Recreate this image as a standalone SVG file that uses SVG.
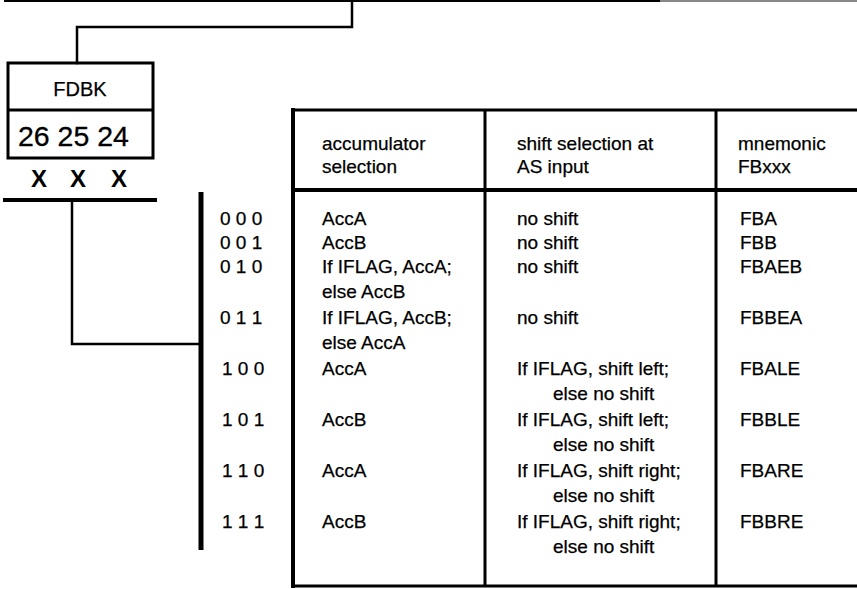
<svg xmlns="http://www.w3.org/2000/svg" width="857" height="589" viewBox="0 0 857 589">
<style>
  .t { font-family: "Liberation Sans", Arial, sans-serif; font-size: 19px; fill: #000; stroke: #000; stroke-width: 0.25; }
  .big { font-family: "Liberation Sans", Arial, sans-serif; font-size: 28.5px; fill: #000; stroke: #000; stroke-width: 0.3; }
  .hd { font-family: "Liberation Sans", Arial, sans-serif; font-size: 20px; fill: #000; stroke: #000; stroke-width: 0.25; }
  .x { font-family: "Liberation Sans", Arial, sans-serif; font-size: 24px; font-weight: bold; fill: #000; }
  .ln { stroke: #000; fill: none; stroke-linecap: square; }
</style>
<rect width="857" height="589" fill="#fff"/>
<g id="connectors">
  <line class="ln" x1="5" y1="1" x2="660" y2="1" stroke-width="2"/>
  <line x1="660" y1="1" x2="857" y2="1" stroke="#888" stroke-width="2"/>
  <polyline class="ln" points="352,1 352,27 77,27 77,63" stroke-width="2.5"/>
  <line class="ln" x1="5" y1="200" x2="155" y2="200" stroke-width="4"/>
  <polyline class="ln" points="72,200 72,344 200,344" stroke-width="2.5"/>
  <line x1="201" y1="192" x2="201" y2="550" stroke="#000" stroke-width="5"/>
</g>
<g id="fdbk">
  <rect x="8" y="63" width="145" height="95" fill="none" stroke="#000" stroke-width="3"/>
  <line x1="8" y1="110" x2="153" y2="110" stroke="#000" stroke-width="3"/>
  <text class="hd" x="80" y="96" text-anchor="middle">FDBK</text>
  <text class="big" x="18" y="146">26 25 24</text>
  <text class="x" x="39" y="187" text-anchor="middle">X</text>
  <text class="x" x="78" y="187" text-anchor="middle">X</text>
  <text class="x" x="119" y="187" text-anchor="middle">X</text>
</g>
<g id="codes">
  <text class="t" x="220" y="225">0 0 0</text>
  <text class="t" x="220" y="249">0 0 1</text>
  <text class="t" x="220" y="273">0 1 0</text>
  <text class="t" x="220" y="324">0 1 1</text>
  <text class="t" x="222" y="375">1 0 0</text>
  <text class="t" x="222" y="426">1 0 1</text>
  <text class="t" x="222" y="477">1 1 0</text>
  <text class="t" x="222" y="528">1 1 1</text>
</g>
<g id="table">
  <line x1="293" y1="110" x2="857" y2="110" stroke="#000" stroke-width="3"/>
  <line x1="293" y1="190" x2="857" y2="190" stroke="#000" stroke-width="4"/>
  <line x1="293" y1="586" x2="857" y2="586" stroke="#000" stroke-width="3"/>
  <line x1="293" y1="108" x2="293" y2="588" stroke="#000" stroke-width="4"/>
  <line x1="485" y1="110" x2="485" y2="586" stroke="#000" stroke-width="3"/>
  <line x1="716" y1="110" x2="716" y2="586" stroke="#000" stroke-width="3"/>
  <text class="t" x="322" y="150">accumulator</text>
  <text class="t" x="322" y="173">selection</text>
  <text class="t" x="517" y="150">shift selection at</text>
  <text class="t" x="517" y="173">AS input</text>
  <text class="t" x="738" y="150">mnemonic</text>
  <text class="t" x="738" y="173">FBxxx</text>

  <text class="t" x="322" y="225">AccA</text>
  <text class="t" x="322" y="249">AccB</text>
  <text class="t" x="322" y="273">If IFLAG, AccA;</text>
  <text class="t" x="322" y="298">else AccB</text>
  <text class="t" x="322" y="324">If IFLAG, AccB;</text>
  <text class="t" x="322" y="349">else AccA</text>
  <text class="t" x="322" y="375">AccA</text>
  <text class="t" x="322" y="426">AccB</text>
  <text class="t" x="322" y="477">AccA</text>
  <text class="t" x="322" y="528">AccB</text>

  <text class="t" x="517" y="225">no shift</text>
  <text class="t" x="517" y="249">no shift</text>
  <text class="t" x="517" y="273">no shift</text>
  <text class="t" x="517" y="324">no shift</text>
  <text class="t" x="517" y="375">If IFLAG, shift left;</text>
  <text class="t" x="553" y="400">else no shift</text>
  <text class="t" x="517" y="426">If IFLAG, shift left;</text>
  <text class="t" x="553" y="451">else no shift</text>
  <text class="t" x="517" y="477">If IFLAG, shift right;</text>
  <text class="t" x="553" y="502">else no shift</text>
  <text class="t" x="517" y="528">If IFLAG, shift right;</text>
  <text class="t" x="553" y="553">else no shift</text>

  <text class="t" x="740" y="225">FBA</text>
  <text class="t" x="740" y="249">FBB</text>
  <text class="t" x="740" y="273">FBAEB</text>
  <text class="t" x="740" y="324">FBBEA</text>
  <text class="t" x="740" y="375">FBALE</text>
  <text class="t" x="740" y="426">FBBLE</text>
  <text class="t" x="740" y="477">FBARE</text>
  <text class="t" x="740" y="528">FBBRE</text>
</g>
</svg>
